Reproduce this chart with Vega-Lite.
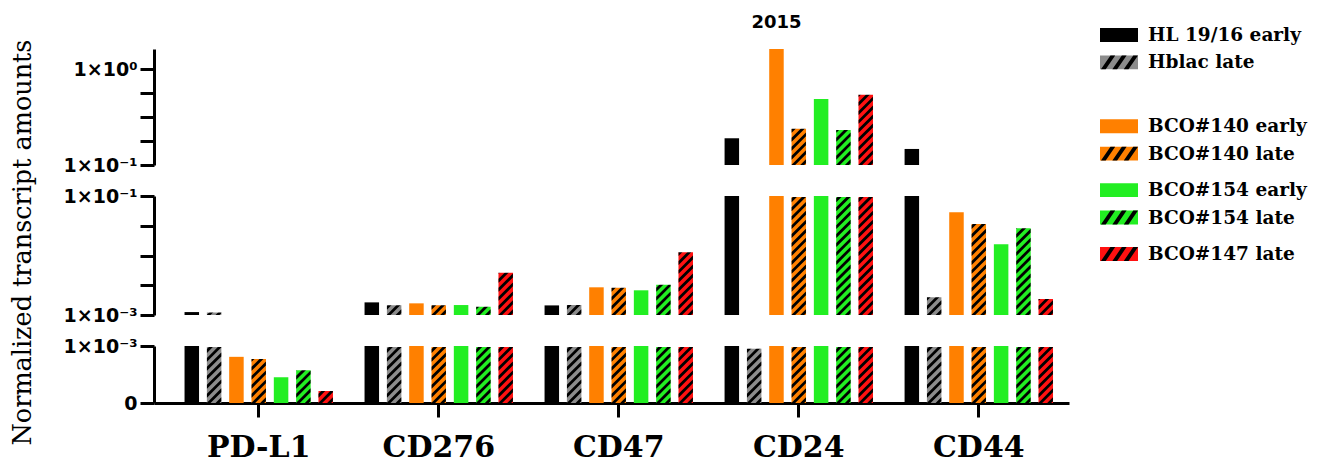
{
  "$schema": "https://vega.github.io/schema/vega-lite/v6.json",
  "background": "white",
  "padding": {"left": 10, "top": 14, "right": 5, "bottom": 2},
  "config": {
    "view": {"stroke": null},
    "axis": {"domainColor": "black", "domainWidth": 3, "tickColor": "black", "tickWidth": 3, "tickSize": 14, "labelColor": "black", "grid": false, "labelOverlap": false, "labelBound": false, "labelFlush": false, "titleColor": "black"},
    "axisY": {"labelFont": "DejaVu Sans", "labelFontWeight": "bold", "labelFontSize": 19, "labelPadding": 3},
    "axisX": {"labelFont": "DejaVu Serif", "labelFontWeight": "bold", "labelFontSize": 30, "labelPadding": 15, "labelAngle": 0}
  },
  "datasets": {
    "bars": [
      {"gene": "PD-L1", "series": "HL 19/16 early", "value": 0.00112},
      {"gene": "PD-L1", "series": "Hblac late", "value": 0.00115},
      {"gene": "PD-L1", "series": "BCO#140 early", "value": 0.00081},
      {"gene": "PD-L1", "series": "BCO#140 late", "value": 0.00079},
      {"gene": "PD-L1", "series": "BCO#154 early", "value": 0.00045},
      {"gene": "PD-L1", "series": "BCO#154 late", "value": 0.00059},
      {"gene": "PD-L1", "series": "BCO#147 late", "value": 0.00023},
      {"gene": "CD276", "series": "HL 19/16 early", "value": 0.00163},
      {"gene": "CD276", "series": "Hblac late", "value": 0.00151},
      {"gene": "CD276", "series": "BCO#140 early", "value": 0.00157},
      {"gene": "CD276", "series": "BCO#140 late", "value": 0.00151},
      {"gene": "CD276", "series": "BCO#154 early", "value": 0.00147},
      {"gene": "CD276", "series": "BCO#154 late", "value": 0.00143},
      {"gene": "CD276", "series": "BCO#147 late", "value": 0.00534},
      {"gene": "CD47", "series": "HL 19/16 early", "value": 0.00145},
      {"gene": "CD47", "series": "Hblac late", "value": 0.00153},
      {"gene": "CD47", "series": "BCO#140 early", "value": 0.00292},
      {"gene": "CD47", "series": "BCO#140 late", "value": 0.00299},
      {"gene": "CD47", "series": "BCO#154 early", "value": 0.0026},
      {"gene": "CD47", "series": "BCO#154 late", "value": 0.00336},
      {"gene": "CD47", "series": "BCO#147 late", "value": 0.01175},
      {"gene": "CD24", "series": "HL 19/16 early", "value": 0.19},
      {"gene": "CD24", "series": "Hblac late", "value": 0.00097},
      {"gene": "CD24", "series": "BCO#140 early", "value": 1.62},
      {"gene": "CD24", "series": "BCO#140 late", "value": 0.245},
      {"gene": "CD24", "series": "BCO#154 early", "value": 0.487},
      {"gene": "CD24", "series": "BCO#154 late", "value": 0.237},
      {"gene": "CD24", "series": "BCO#147 late", "value": 0.553},
      {"gene": "CD44", "series": "HL 19/16 early", "value": 0.147},
      {"gene": "CD44", "series": "Hblac late", "value": 0.00206},
      {"gene": "CD44", "series": "BCO#140 early", "value": 0.0532},
      {"gene": "CD44", "series": "BCO#140 late", "value": 0.0352},
      {"gene": "CD44", "series": "BCO#154 early", "value": 0.0154},
      {"gene": "CD44", "series": "BCO#154 late", "value": 0.0298},
      {"gene": "CD44", "series": "BCO#147 late", "value": 0.00193}
    ],
    "legend": [
      {"series": "HL 19/16 early"},
      {"series": "Hblac late"},
      {"series": "BCO#140 early"},
      {"series": "BCO#140 late"},
      {"series": "BCO#154 early"},
      {"series": "BCO#154 late"},
      {"series": "BCO#147 late"}
    ],
    "notes": [
      {"gene": "CD24", "series": "BCO#140 early", "note": "2015"}
    ]
  },
  "resolve": {"scale": {"y": "independent"}},
  "bounds": "flush",
  "spacing": 31,
  "vconcat": [
    {
      "width": 915,
      "height": 116,
      "resolve": {"scale": {"x": "independent", "y": "independent"}},
      "layer": [
        {
          "data": {"name": "bars"},
          "encoding": {
            "x": {"field": "gene", "type": "nominal", "scale": {"domain": ["PD-L1", "CD276", "CD47", "CD24", "CD44"], "paddingInner": 0.132, "paddingOuter": 0.1075, "align": 0.688}, "axis": null},
            "xOffset": {"field": "series", "type": "nominal", "scale": {"domain": ["HL 19/16 early", "Hblac late", "BCO#140 early", "BCO#140 late", "BCO#154 early", "BCO#154 late", "BCO#147 late"], "paddingInner": 0.35, "paddingOuter": 0.175}}
          },
          "layer": [
            {
              "mark": {"type": "bar", "clip": true},
              "encoding": {
                "y": {"field": "value", "type": "quantitative", "scale": {"type": "log", "domain": [0.1, 1.62], "nice": false},
                  "axis": {"title": null, "values": [0.1, 0.17783, 0.31623, 0.56234, 1], "labelExpr": "datum.value == 1 ? '1×10⁰' : datum.value == 0.1 ? '1×10⁻¹' : ''"}},
                "y2": {"datum": 0.1},
                "color": {"field": "series", "type": "nominal", "scale": {"domain": ["HL 19/16 early", "Hblac late", "BCO#140 early", "BCO#140 late", "BCO#154 early", "BCO#154 late", "BCO#147 late"], "range": ["#000000", "#8c8c8c", "#ff8000", "#ff8000", "#22ee22", "#22ee22", "#ff1111"]}, "legend": null}
              }
            },
            {
              "transform": [{"filter": {"field": "series", "oneOf": ["Hblac late", "BCO#140 late", "BCO#154 late", "BCO#147 late"]}}],
              "mark": {"type": "point", "clip": true, "filled": true, "opacity": 1, "color": "black", "strokeWidth": 0, "size": 205, "shape": "M-1,1.75L1,-0.25L1,-0.8L-1,1.2Z M-1,0.5L1,-1.5L1,-2.05L-1,-0.05Z M-1,-0.75L1,-2.75L1,-3.3L-1,-1.3Z M-1,-2L1,-4L1,-4.55L-1,-2.55Z M-1,-3.25L1,-5.25L1,-5.8L-1,-3.8Z M-1,-4.5L1,-6.5L1,-7.05L-1,-5.05Z M-1,-5.75L1,-7.75L1,-8.3L-1,-6.3Z M-1,-7L1,-9L1,-9.55L-1,-7.55Z M-1,-8.25L1,-10.25L1,-10.8L-1,-8.8Z M-1,-9.5L1,-11.5L1,-12.05L-1,-10.05Z M-1,-10.75L1,-12.75L1,-13.3L-1,-11.3Z M-1,-12L1,-14L1,-14.55L-1,-12.55Z M-1,-13.25L1,-15.25L1,-15.8L-1,-13.8Z M-1,-14.5L1,-16.5L1,-17.05L-1,-15.05Z M-1,-15.75L1,-17.75L1,-18.3L-1,-16.3Z M-1,-17L1,-19L1,-19.55L-1,-17.55Z M-1,-18.25L1,-20.25L1,-20.8L-1,-18.8Z"},
              "encoding": {"y": {"datum": 0.1}}
            },
            {
              "transform": [{"filter": {"field": "series", "oneOf": ["Hblac late", "BCO#140 late", "BCO#154 late", "BCO#147 late"]}}],
              "mark": {"type": "bar", "clip": true, "color": "white", "stroke": "white", "strokeWidth": 2},
              "encoding": {"y": {"field": "value", "type": "quantitative"}, "y2": {"datum": 1.62}}
            },
            {
              "data": {"name": "notes"},
              "mark": {"type": "text", "font": "DejaVu Sans", "fontWeight": "bold", "fontSize": 18, "color": "black", "baseline": "middle"},
              "encoding": {"y": {"datum": 3}, "text": {"field": "note"}}
            }
          ]
        },
        {
          "data": {"name": "legend"},
          "encoding": {
            "y": {"field": "series", "type": "nominal", "axis": null,
              "scale": {"type": "point", "padding": 0, "range": [-14, 205], "domain": ["HL 19/16 early", "s1", "s2", "Hblac late", "s4", "s5", "s6", "s7", "s8", "s9", "BCO#140 early", "s11", "s12", "BCO#140 late", "s14", "s15", "s16", "BCO#154 early", "s18", "s19", "BCO#154 late", "s21", "s22", "s23", "BCO#147 late"]}}
          },
          "layer": [
            {
              "mark": {"type": "point", "filled": true, "opacity": 1, "strokeWidth": 0, "size": 1444, "shape": "M-1,-0.368L1,-0.368L1,0.368L-1,0.368Z"},
              "encoding": {
                "x": {"datum": "swatch", "type": "nominal", "scale": {"type": "point", "domain": ["swatch", "label"], "padding": 0, "range": [965, 994]}, "axis": null},
                "color": {"field": "series", "type": "nominal", "scale": {"domain": ["HL 19/16 early", "Hblac late", "BCO#140 early", "BCO#140 late", "BCO#154 early", "BCO#154 late", "BCO#147 late"], "range": ["#000000", "#8c8c8c", "#ff8000", "#ff8000", "#22ee22", "#22ee22", "#ff1111"]}, "legend": null}
              }
            },
            {
              "transform": [{"filter": {"field": "series", "oneOf": ["Hblac late", "BCO#140 late", "BCO#154 late", "BCO#147 late"]}}],
              "mark": {"type": "point", "filled": true, "opacity": 1, "strokeWidth": 0, "color": "black", "size": 1444, "shape": "M-0.95,0.368L-0.7,0.368L-0.2,-0.368L-0.45,-0.368Z M-0.35,0.368L-0.1,0.368L0.4,-0.368L0.15,-0.368Z M0.25,0.368L0.5,0.368L1,-0.368L0.75,-0.368Z"},
              "encoding": {"x": {"datum": "swatch", "type": "nominal"}}
            },
            {
              "mark": {"type": "text", "align": "left", "baseline": "middle", "font": "DejaVu Serif", "fontWeight": "bold", "fontSize": 18.5, "color": "black"},
              "encoding": {"x": {"datum": "label", "type": "nominal"}, "text": {"field": "series"}}
            }
          ]
        }
      ]
    },
    {
      "width": 915,
      "height": 119,
      "data": {"name": "bars"},
      "encoding": {
        "x": {"field": "gene", "type": "nominal", "scale": {"domain": ["PD-L1", "CD276", "CD47", "CD24", "CD44"], "paddingInner": 0.132, "paddingOuter": 0.1075, "align": 0.688}, "axis": null},
        "xOffset": {"field": "series", "type": "nominal", "scale": {"domain": ["HL 19/16 early", "Hblac late", "BCO#140 early", "BCO#140 late", "BCO#154 early", "BCO#154 late", "BCO#147 late"], "paddingInner": 0.35, "paddingOuter": 0.175}}
      },
      "layer": [
        {
          "mark": {"type": "bar", "clip": true},
          "encoding": {
            "y": {"field": "value", "type": "quantitative", "scale": {"type": "log", "domain": [0.001, 0.1], "nice": false},
              "axis": {"title": "Normalized transcript amounts", "titleFont": "DejaVu Serif", "titleFontWeight": "normal", "titleFontSize": 25.5, "titlePadding": 28, "titleY": 46,
                "values": [0.001, 0.0031623, 0.01, 0.031623, 0.1], "labelExpr": "datum.value == 0.1 ? '1×10⁻¹' : datum.value == 0.001 ? '1×10⁻³' : ''"}},
            "y2": {"datum": 0.001},
            "color": {"field": "series", "type": "nominal", "scale": {"domain": ["HL 19/16 early", "Hblac late", "BCO#140 early", "BCO#140 late", "BCO#154 early", "BCO#154 late", "BCO#147 late"], "range": ["#000000", "#8c8c8c", "#ff8000", "#ff8000", "#22ee22", "#22ee22", "#ff1111"]}, "legend": null}
          }
        },
        {
          "transform": [{"filter": {"field": "series", "oneOf": ["Hblac late", "BCO#140 late", "BCO#154 late", "BCO#147 late"]}}],
          "mark": {"type": "point", "clip": true, "filled": true, "opacity": 1, "color": "black", "strokeWidth": 0, "size": 205, "shape": "M-1,1.75L1,-0.25L1,-0.8L-1,1.2Z M-1,0.5L1,-1.5L1,-2.05L-1,-0.05Z M-1,-0.75L1,-2.75L1,-3.3L-1,-1.3Z M-1,-2L1,-4L1,-4.55L-1,-2.55Z M-1,-3.25L1,-5.25L1,-5.8L-1,-3.8Z M-1,-4.5L1,-6.5L1,-7.05L-1,-5.05Z M-1,-5.75L1,-7.75L1,-8.3L-1,-6.3Z M-1,-7L1,-9L1,-9.55L-1,-7.55Z M-1,-8.25L1,-10.25L1,-10.8L-1,-8.8Z M-1,-9.5L1,-11.5L1,-12.05L-1,-10.05Z M-1,-10.75L1,-12.75L1,-13.3L-1,-11.3Z M-1,-12L1,-14L1,-14.55L-1,-12.55Z M-1,-13.25L1,-15.25L1,-15.8L-1,-13.8Z M-1,-14.5L1,-16.5L1,-17.05L-1,-15.05Z M-1,-15.75L1,-17.75L1,-18.3L-1,-16.3Z M-1,-17L1,-19L1,-19.55L-1,-17.55Z M-1,-18.25L1,-20.25L1,-20.8L-1,-18.8Z"},
          "encoding": {"y": {"datum": 0.001}}
        },
        {
          "transform": [{"filter": {"field": "series", "oneOf": ["Hblac late", "BCO#140 late", "BCO#154 late", "BCO#147 late"]}}],
          "mark": {"type": "bar", "clip": true, "color": "white", "stroke": "white", "strokeWidth": 2},
          "encoding": {"y": {"field": "value", "type": "quantitative"}, "y2": {"datum": 0.1}}
        }
      ]
    },
    {
      "width": 915,
      "height": 57,
      "data": {"name": "bars"},
      "encoding": {
        "x": {"field": "gene", "type": "nominal", "scale": {"domain": ["PD-L1", "CD276", "CD47", "CD24", "CD44"], "paddingInner": 0.132, "paddingOuter": 0.1075, "align": 0.688}, "axis": {"title": null}},
        "xOffset": {"field": "series", "type": "nominal", "scale": {"domain": ["HL 19/16 early", "Hblac late", "BCO#140 early", "BCO#140 late", "BCO#154 early", "BCO#154 late", "BCO#147 late"], "paddingInner": 0.35, "paddingOuter": 0.175}}
      },
      "layer": [
        {
          "mark": {"type": "bar", "clip": true},
          "encoding": {
            "y": {"field": "value", "type": "quantitative", "scale": {"domain": [0, 0.001], "nice": false, "zero": true},
              "axis": {"title": null, "values": [0, 0.0005, 0.001], "labelExpr": "datum.value == 0 ? '0' : datum.value == 0.001 ? '1×10⁻³' : ''"}},
            "y2": {"datum": 0},
            "color": {"field": "series", "type": "nominal", "scale": {"domain": ["HL 19/16 early", "Hblac late", "BCO#140 early", "BCO#140 late", "BCO#154 early", "BCO#154 late", "BCO#147 late"], "range": ["#000000", "#8c8c8c", "#ff8000", "#ff8000", "#22ee22", "#22ee22", "#ff1111"]}, "legend": null}
          }
        },
        {
          "transform": [{"filter": {"field": "series", "oneOf": ["Hblac late", "BCO#140 late", "BCO#154 late", "BCO#147 late"]}}],
          "mark": {"type": "point", "clip": true, "filled": true, "opacity": 1, "color": "black", "strokeWidth": 0, "size": 205, "shape": "M-1,1.75L1,-0.25L1,-0.8L-1,1.2Z M-1,0.5L1,-1.5L1,-2.05L-1,-0.05Z M-1,-0.75L1,-2.75L1,-3.3L-1,-1.3Z M-1,-2L1,-4L1,-4.55L-1,-2.55Z M-1,-3.25L1,-5.25L1,-5.8L-1,-3.8Z M-1,-4.5L1,-6.5L1,-7.05L-1,-5.05Z M-1,-5.75L1,-7.75L1,-8.3L-1,-6.3Z M-1,-7L1,-9L1,-9.55L-1,-7.55Z M-1,-8.25L1,-10.25L1,-10.8L-1,-8.8Z M-1,-9.5L1,-11.5L1,-12.05L-1,-10.05Z"},
          "encoding": {"y": {"datum": 0}}
        },
        {
          "transform": [{"filter": {"field": "series", "oneOf": ["Hblac late", "BCO#140 late", "BCO#154 late", "BCO#147 late"]}}],
          "mark": {"type": "bar", "clip": true, "color": "white", "stroke": "white", "strokeWidth": 2},
          "encoding": {"y": {"field": "value", "type": "quantitative"}, "y2": {"datum": 0.001}}
        }
      ]
    }
  ]
}
